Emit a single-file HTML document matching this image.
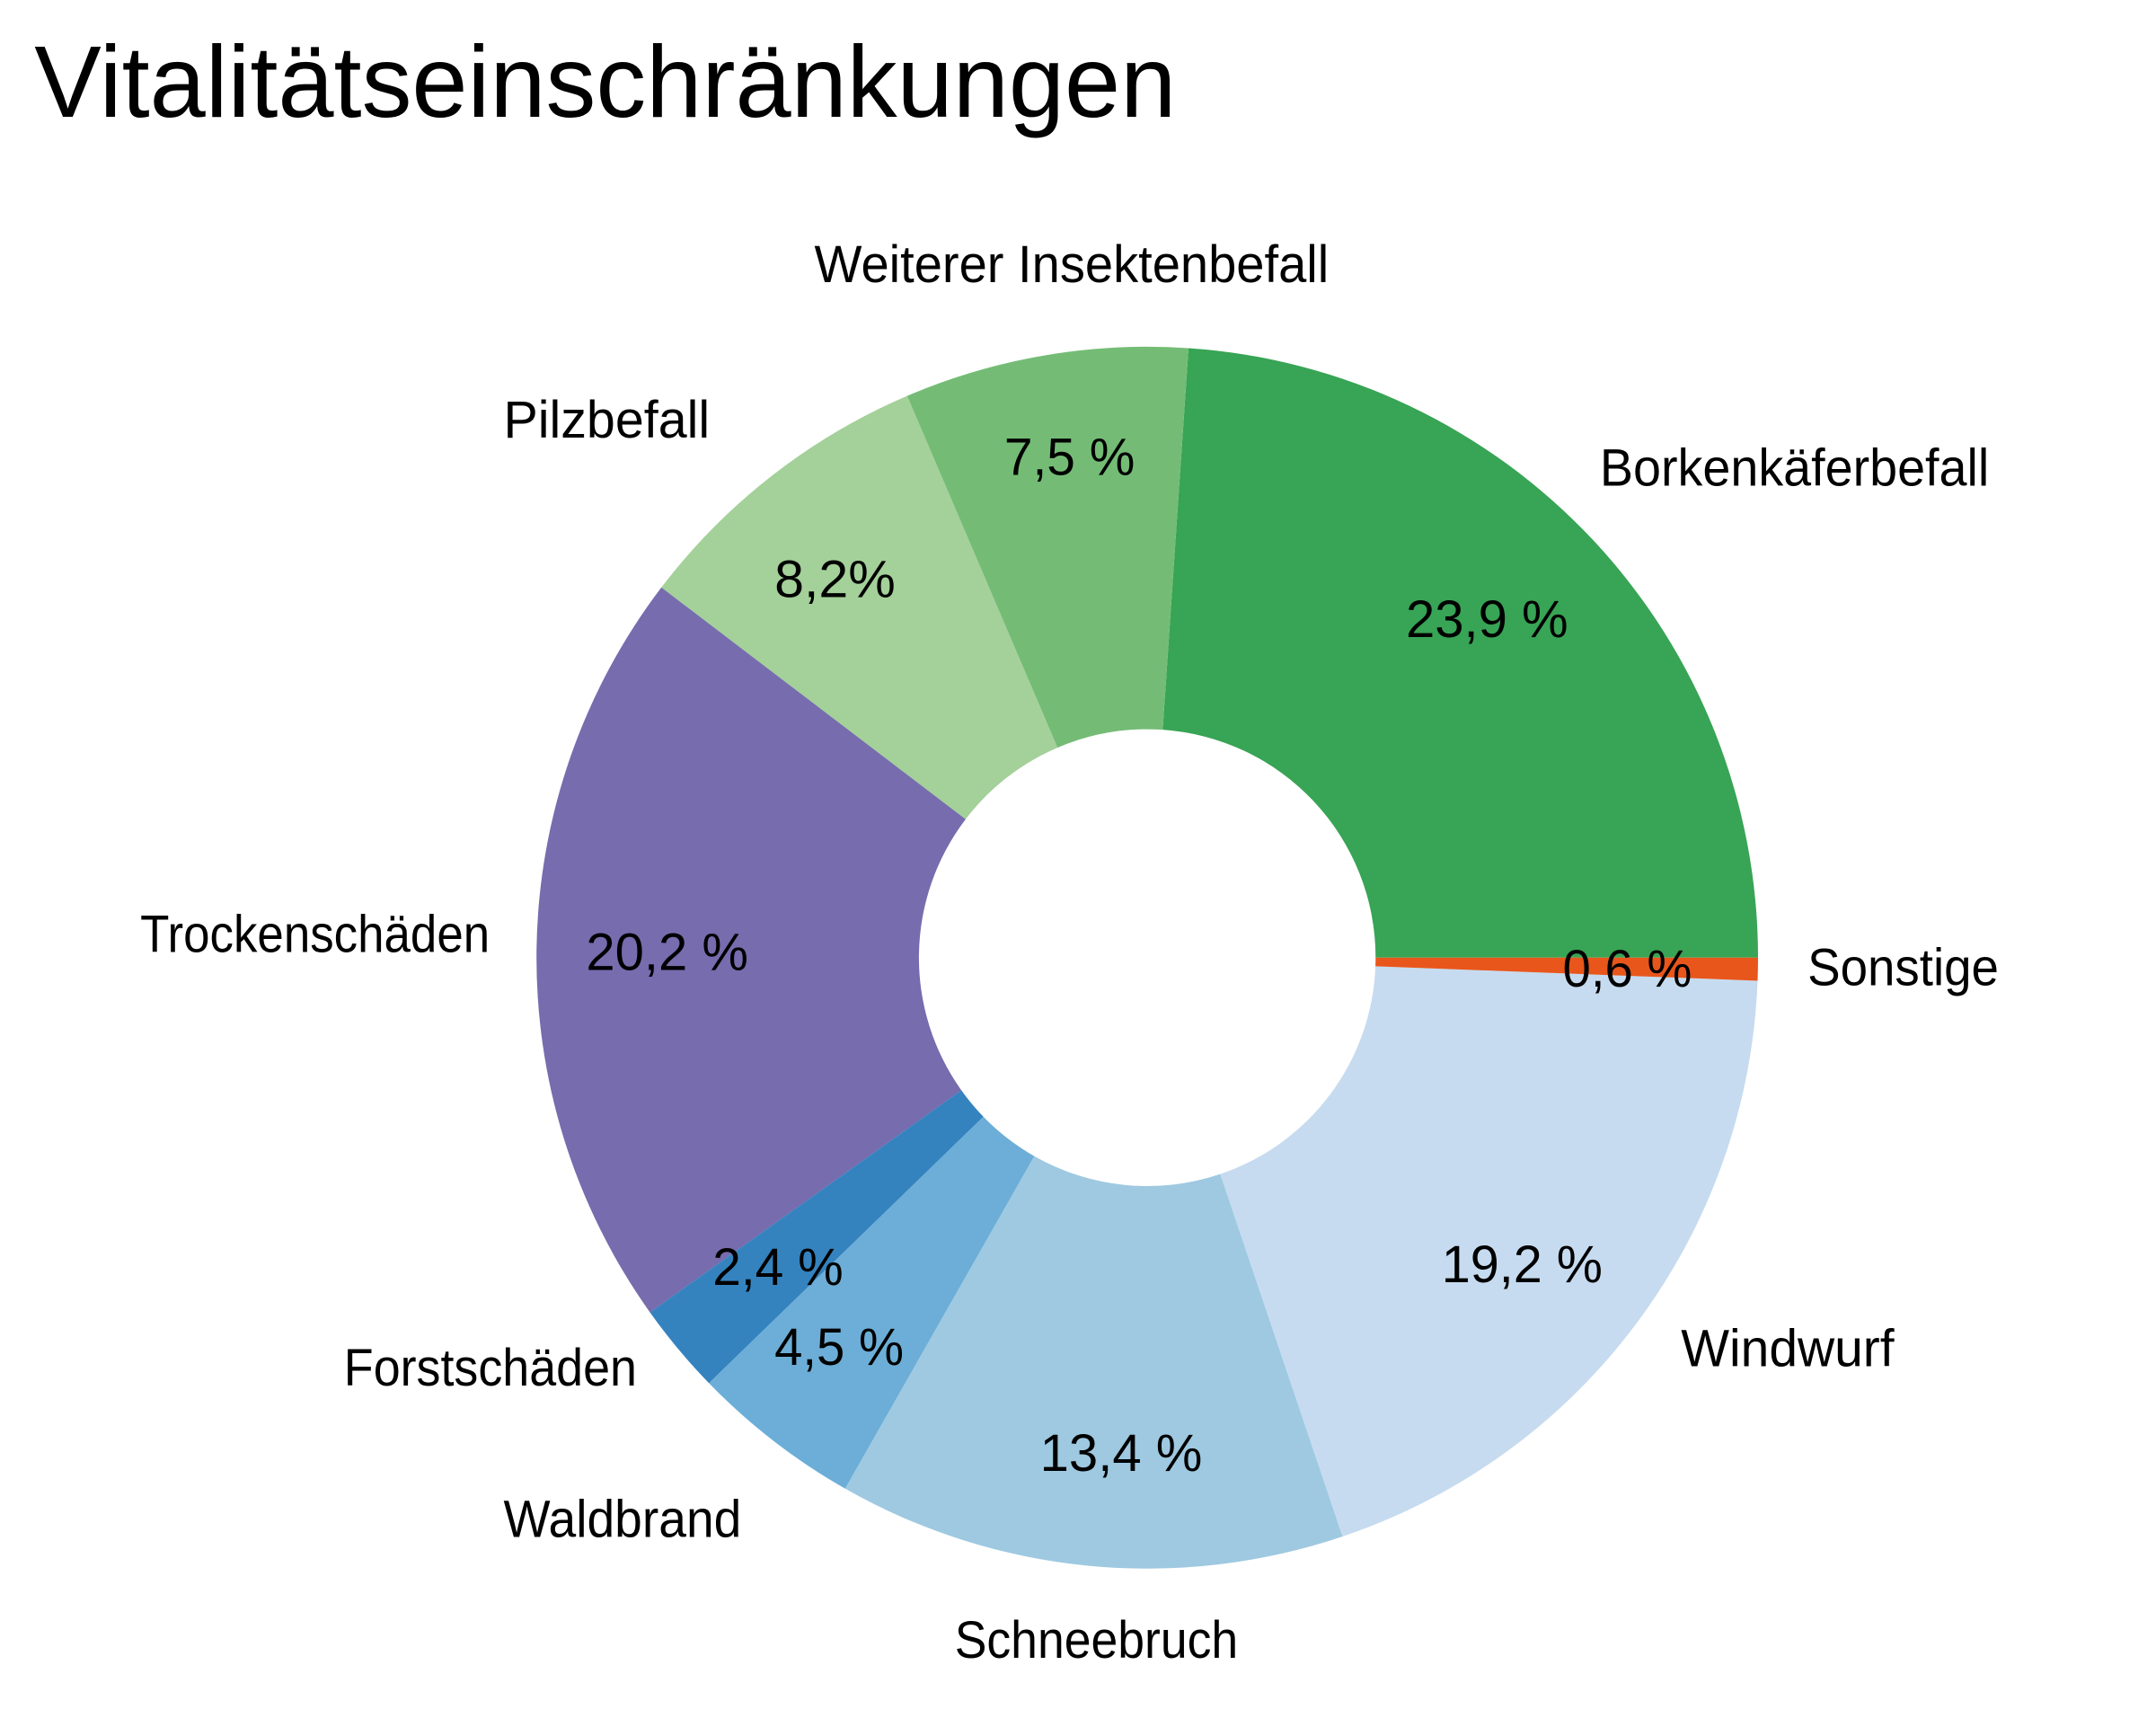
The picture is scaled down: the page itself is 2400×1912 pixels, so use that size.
<!DOCTYPE html>
<html><head><meta charset="utf-8">
<style>
html,body{margin:0;padding:0;background:#fff;}
svg{display:block;}
text{font-family:"Liberation Sans Narrow","Liberation Sans",sans-serif;fill:#000;}
</style></head>
<body>
<svg id="s" width="2400" height="1912" viewBox="0 0 1567.3 1248.6" preserveAspectRatio="none" xmlns="http://www.w3.org/2000/svg">
<rect width="1600" height="1300" fill="#fff"/>
<g id="pie"></g>
<text x="25" y="85" font-size="74" textLength="830" lengthAdjust="spacingAndGlyphs">Vitalitätseinschränkungen</text>
<g font-size="38">
<text x="592" y="205" textLength="374" lengthAdjust="spacingAndGlyphs">Weiterer Insektenbefall</text>
<text x="366" y="318" textLength="150" lengthAdjust="spacingAndGlyphs">Pilzbefall</text>
<text x="1163" y="353" textLength="283" lengthAdjust="spacingAndGlyphs">Borkenkäferbefall</text>
<text x="102" y="692" textLength="254" lengthAdjust="spacingAndGlyphs">Trockenschäden</text>
<text x="1314" y="716" textLength="139" lengthAdjust="spacingAndGlyphs">Sonstige</text>
<text x="250" y="1007" textLength="213" lengthAdjust="spacingAndGlyphs">Forstschäden</text>
<text x="366" y="1117" textLength="173" lengthAdjust="spacingAndGlyphs">Waldbrand</text>
<text x="694" y="1205" textLength="206" lengthAdjust="spacingAndGlyphs">Schneebruch</text>
<text x="1222" y="993" textLength="155" lengthAdjust="spacingAndGlyphs">Windwurf</text>
<text x="730" y="345" textLength="95" lengthAdjust="spacingAndGlyphs">7,5 %</text>
<text x="563" y="434" textLength="88" lengthAdjust="spacingAndGlyphs">8,2%</text>
<text x="1022" y="463" textLength="118" lengthAdjust="spacingAndGlyphs">23,9 %</text>
<text x="426" y="705" textLength="118" lengthAdjust="spacingAndGlyphs">20,2 %</text>
<text x="1136" y="717" textLength="94" lengthAdjust="spacingAndGlyphs">0,6 %</text>
<text x="518" y="934" textLength="95" lengthAdjust="spacingAndGlyphs">2,4 %</text>
<text x="563" y="992" textLength="94" lengthAdjust="spacingAndGlyphs">4,5 %</text>
<text x="756" y="1069" textLength="118" lengthAdjust="spacingAndGlyphs">13,4 %</text>
<text x="1048" y="932" textLength="117" lengthAdjust="spacingAndGlyphs">19,2 %</text>
</g>
</svg>
<script>
(function(){
var vals=[23.9,7.5,8.2,20.2,2.4,4.5,13.4,19.2,0.6];
var cols=["#38a455","#74bc75","#a4d099","#766cae","#3483bf","#6caed7","#9ec9e1","#c6dbef","#e8561b"];
var cx=834,cy=696,R=444,r=166;
var tot=vals.reduce(function(a,b){return a+b;},0);
var g=document.getElementById("pie");
var a0=0,html="";
function pt(rad,a){return (cx+rad*Math.cos(a)).toFixed(2)+","+(cy-rad*Math.sin(a)).toFixed(2);}
for(var i=0;i<vals.length;i++){
 var a1=a0+vals[i]/tot*2*Math.PI;
 var large=(a1-a0)>Math.PI?1:0;
 var d="M"+pt(R,a0)+" A"+R+","+R+" 0 "+large+" 0 "+pt(R,a1)+" L"+pt(r,a1)+" A"+r+","+r+" 0 "+large+" 1 "+pt(r,a0)+" Z";
 html+='<path d="'+d+'" fill="'+cols[i]+'"/>';
 a0=a1;
}
g.innerHTML=html;
})();
</script>
</body></html>
